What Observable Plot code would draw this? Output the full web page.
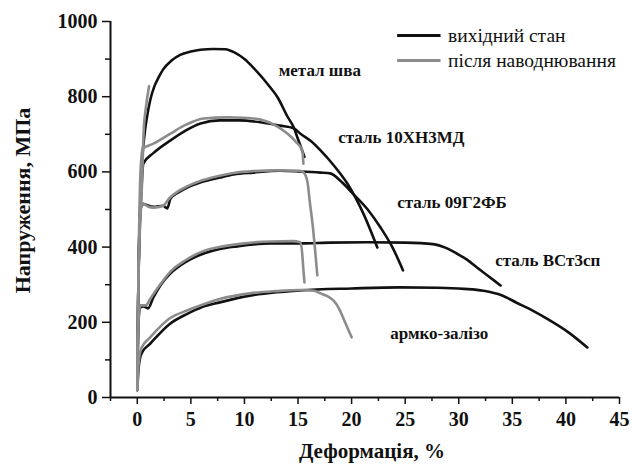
<!DOCTYPE html>
<html><head><meta charset="utf-8">
<script src="https://cdn.jsdelivr.net/npm/d3@7"></script>
<script src="https://cdn.jsdelivr.net/npm/@observablehq/plot@0.6"></script>
<style>
body{margin:0;background:#fff}
#chart svg text {font-family: "Liberation Serif", "DejaVu Serif", serif !important;}
</style>
</head><body><div id="chart"></div>
<script>
// ---- data (strain %, stress MPa) ----
const metalBlack = [[0,20],[0.1,300],[0.4,600],[0.7,705],[0.9,745],[1.2,790],[1.6,828],[2.0,852],[2.4,872],[3.2,896],[4.0,911],[5.0,920],[5.9,925],[7.1,927],[8.2,926],[9.1,917],[10.0,900],[10.8,878],[12.4,825],[13.1,798],[14.0,748],[14.6,718],[14.9,695],[15.6,640]];
const metalGray = [[0,20],[0.1,300],[0.45,577],[0.6,710],[0.8,770],[1.1,828]];
const h10Black = [[0,20],[0.1,300],[0.4,560],[0.56,622],[1.5,650],[3.1,684],[4.5,710],[5.9,729],[7.7,737],[9.5,737],[11.5,732],[13.3,723],[14.6,716],[15.2,702],[16.2,682],[17.1,657],[18.4,615],[19.6,569],[21.1,489],[22.4,399]];
const h10Gray = [[0,20],[0.1,300],[0.3,600],[0.5,662],[1.5,675],[3.1,702],[4.5,725],[6.2,742],[8.4,745],[10,744],[11.5,739],[13,722],[14.0,702],[14.8,680],[15.4,657],[15.5,622]];
const g09Black = [[0,20],[0.1,300],[0.3,500],[0.5,515],[1.5,507],[2.4,510],[2.8,503],[3.1,529],[3.8,545],[4.7,559],[6,573],[7.7,585],[9,593],[10.8,598],[13.3,603],[15.2,601],[17.1,598],[18.0,596],[19.0,575],[20.1,543],[21.5,500],[22.7,452],[23.8,400],[24.8,338]];
const g09Gray = [[0,20],[0.1,300],[0.3,500],[0.5,516],[1.0,508],[1.5,505],[2.4,510],[3.0,530],[3.8,548],[4.7,562],[6,577],[7.7,590],[9,597],[10.8,602],[13,604],[15.2,603],[15.6,596],[15.9,570],[16.1,520],[16.4,450],[16.6,390],[16.8,325]];
const vstBlack = [[0,20],[0.1,200],[0.3,240],[0.6,242],[1.0,237],[1.5,266],[2.2,300],[3.1,330],[4.5,360],[6.2,383],[7.7,395],[9.3,402],[12.4,410],[15.2,410],[18,412],[21.5,413],[25,412],[27.6,408],[28.8,398],[29.8,383],[30.8,366],[31.7,346],[32.8,322],[33.9,298]];
const vstGray = [[0,20],[0.1,200],[0.3,245],[0.8,245],[1.2,262],[2,295],[3.1,335],[4.5,365],[6.2,390],[8,402],[10,410],[12.4,415],[14.5,416],[15.2,413],[15.4,380],[15.5,340],[15.6,306]];
const armcoBlack = [[0,20],[0.1,70],[0.3,110],[0.45,120],[1.2,143],[3,195],[4.7,223],[6,240],[7.7,253],[10.5,271],[13,280],[15.2,285],[20,290],[24.5,293],[28,292],[30.5,289],[32.3,284],[34,272],[35.4,252],[36.9,231],[38.5,205],[40.3,172],[42.0,133]];
const armcoGray = [[0,20],[0.1,80],[0.3,125],[0.45,135],[1.2,160],[3,210],[4.7,232],[6,246],[7.7,262],[10.5,277],[13,283],[15.2,286],[16.5,284],[17.1,277],[17.7,270],[18.3,258],[18.8,238],[19.2,213],[19.6,186],[20.0,160]];

const blackSeries = [metalBlack, h10Black, g09Black, vstBlack, armcoBlack];
const graySeries = [metalGray, h10Gray, g09Gray, vstGray, armcoGray];

const curveLabels = ["метал шва","сталь 10ХН3МД","сталь 09Г2ФБ","сталь ВСт3сп","армко-залізо"];
const curveLabelX = [13.2, 18.75, 24.25, 33.4, 23.6];
const curveLabelY = [870, 692, 519, 364, 170];

const legendLabels = ["вихідний стан","після наводнювання"];
const legendColors = ["#111111","#8c8c8c"];
const legendX1 = 24.25, legendX2 = 28.3, legendTextX = 29.0;
const legendY = [963, 896];

const xMajor = [0,5,10,15,20,25,30,35,40,45];
const xMinor = [-2.5,2.5,7.5,12.5,17.5,22.5,27.5,32.5,37.5,42.5];
const yMajor = [0,200,400,600,800,1000];
const yMinor = [100,300,500,700,900];
const xTitle = "Деформація, %";
const yTitle = "Напруження, МПа";

const toRows = (arr, color) => arr.flatMap((s, i) => s.map(([x, y]) => ({x, y, id: color + i})));
const blackRows = toRows(blackSeries, "b");
const grayRows = toRows(graySeries, "g");

const legendRows = legendLabels.map((t, i) => ({t, c: legendColors[i], y: legendY[i]}));
const labelRows = curveLabels.map((t, i) => ({t, x: curveLabelX[i], y: curveLabelY[i]}));

const font = "'Liberation Serif', 'DejaVu Serif', serif";
const plot = Plot.plot({
  width: 632, height: 467,
  marginLeft: 110, marginRight: 13, marginTop: 21, marginBottom: 70,
  x: {domain: [-2.5, 45]},
  y: {domain: [0, 1000]},
  style: {fontFamily: font, fontWeight: "bold", fontSize: "20px", color: "#111", background: "#fff", overflow: "visible"},
  marks: [
    Plot.axisX({ticks: xMajor, tickSize: 7, tickPadding: 7, fontSize: 20, fontWeight: "bold", tickFormat: d => String(d), label: null, strokeWidth: 1.5}),
    Plot.axisX({ticks: xMinor, tickSize: 4, tickFormat: () => "", label: null, strokeWidth: 1.5}),
    Plot.axisY({ticks: yMajor, tickSize: 8, tickPadding: 5, fontSize: 20, fontWeight: "bold", tickFormat: d => String(d), label: null, strokeWidth: 1.5}),
    Plot.axisY({ticks: yMinor, tickSize: 5, tickFormat: () => "", label: null, strokeWidth: 1.5}),
    Plot.ruleY([0], {x1: -2.5, x2: 45, stroke: "#111", strokeWidth: 2}),
    Plot.ruleX([-2.5], {y1: 0, y2: 1000, stroke: "#111", strokeWidth: 2}),
    Plot.line(blackRows, {x: "x", y: "y", z: "id", stroke: legendColors[0], strokeWidth: 2.6, curve: "monotone-x"}),
    Plot.line(grayRows, {x: "x", y: "y", z: "id", stroke: legendColors[1], strokeWidth: 2.6, curve: "monotone-x"}),
    Plot.text(labelRows, {x: "x", y: "y", text: "t", textAnchor: "start", fontSize: 17, fontWeight: "bold", fill: "#111", fontFamily: font}),
    Plot.link(legendRows, {x1: legendX1, x2: legendX2, y1: "y", y2: "y", stroke: "c", strokeWidth: 3}),
    Plot.text(legendRows, {x: legendTextX, y: "y", text: "t", textAnchor: "start", fontSize: 19.5, fontWeight: "normal", fill: "#111", fontFamily: font}),
    Plot.text([xTitle], {x: 21.9, frameAnchor: "bottom", lineAnchor: "middle", dy: 54, text: d => d, fontSize: 21, fontWeight: "bold", fill: "#111", fontFamily: font}),
    Plot.text([yTitle], {frameAnchor: "left", textAnchor: "middle", lineAnchor: "middle", dx: -88, dy: -9, rotate: -90, text: d => d, fontSize: 22, fontWeight: "bold", fill: "#111", fontFamily: font})
  ]
});
document.getElementById("chart").appendChild(plot);
</script>
</body></html>
